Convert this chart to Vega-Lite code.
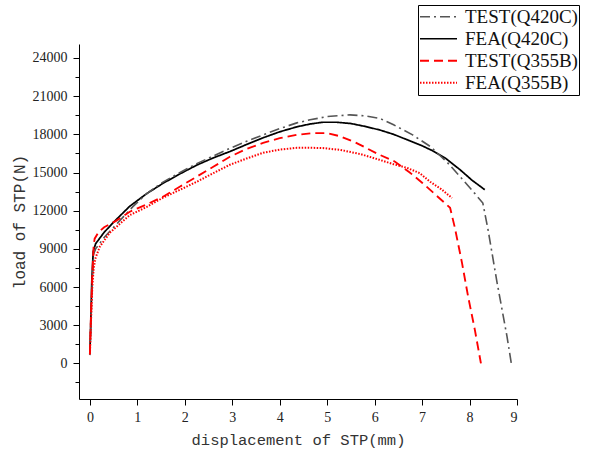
{
  "$schema": "https://vega.github.io/schema/vega-lite/v6.json",
  "width": 438,
  "height": 355,
  "autosize": {"type": "none"},
  "padding": {"left": 79, "top": 44, "right": 77, "bottom": 56},
  "background": "white",
  "config": {"view": {"stroke": null}},
  "data": {"values": [
    {"series": "FEA(Q420C)", "x": 0, "y": 850},
    {"series": "FEA(Q420C)", "x": 0.02, "y": 3500},
    {"series": "FEA(Q420C)", "x": 0.04, "y": 6500},
    {"series": "FEA(Q420C)", "x": 0.07, "y": 8800},
    {"series": "FEA(Q420C)", "x": 0.12, "y": 9400},
    {"series": "FEA(Q420C)", "x": 0.3, "y": 10300},
    {"series": "FEA(Q420C)", "x": 0.5, "y": 11100},
    {"series": "FEA(Q420C)", "x": 0.84, "y": 12350},
    {"series": "FEA(Q420C)", "x": 1.2, "y": 13350},
    {"series": "FEA(Q420C)", "x": 1.54, "y": 14150},
    {"series": "FEA(Q420C)", "x": 1.9, "y": 14900},
    {"series": "FEA(Q420C)", "x": 2.25, "y": 15580},
    {"series": "FEA(Q420C)", "x": 2.6, "y": 16150},
    {"series": "FEA(Q420C)", "x": 2.95, "y": 16650},
    {"series": "FEA(Q420C)", "x": 3.3, "y": 17200},
    {"series": "FEA(Q420C)", "x": 3.65, "y": 17730},
    {"series": "FEA(Q420C)", "x": 4.0, "y": 18200},
    {"series": "FEA(Q420C)", "x": 4.36, "y": 18590},
    {"series": "FEA(Q420C)", "x": 4.65, "y": 18820},
    {"series": "FEA(Q420C)", "x": 4.91, "y": 18950},
    {"series": "FEA(Q420C)", "x": 5.2, "y": 18950},
    {"series": "FEA(Q420C)", "x": 5.5, "y": 18850},
    {"series": "FEA(Q420C)", "x": 5.8, "y": 18620},
    {"series": "FEA(Q420C)", "x": 6.1, "y": 18350},
    {"series": "FEA(Q420C)", "x": 6.4, "y": 18000},
    {"series": "FEA(Q420C)", "x": 6.7, "y": 17550},
    {"series": "FEA(Q420C)", "x": 7.0, "y": 17100},
    {"series": "FEA(Q420C)", "x": 7.2, "y": 16750},
    {"series": "FEA(Q420C)", "x": 7.5, "y": 16100},
    {"series": "FEA(Q420C)", "x": 7.8, "y": 15220},
    {"series": "FEA(Q420C)", "x": 8.05, "y": 14400},
    {"series": "FEA(Q420C)", "x": 8.32, "y": 13650},

    {"series": "TEST(Q420C)", "x": 0, "y": 650},
    {"series": "TEST(Q420C)", "x": 0.02, "y": 3000},
    {"series": "TEST(Q420C)", "x": 0.05, "y": 6500},
    {"series": "TEST(Q420C)", "x": 0.08, "y": 8600},
    {"series": "TEST(Q420C)", "x": 0.12, "y": 9000},
    {"series": "TEST(Q420C)", "x": 0.3, "y": 9900},
    {"series": "TEST(Q420C)", "x": 0.5, "y": 10700},
    {"series": "TEST(Q420C)", "x": 0.9, "y": 12300},
    {"series": "TEST(Q420C)", "x": 1.2, "y": 13350},
    {"series": "TEST(Q420C)", "x": 1.54, "y": 14250},
    {"series": "TEST(Q420C)", "x": 1.9, "y": 15000},
    {"series": "TEST(Q420C)", "x": 2.25, "y": 15700},
    {"series": "TEST(Q420C)", "x": 2.6, "y": 16300},
    {"series": "TEST(Q420C)", "x": 2.95, "y": 16900},
    {"series": "TEST(Q420C)", "x": 3.3, "y": 17450},
    {"series": "TEST(Q420C)", "x": 3.65, "y": 17960},
    {"series": "TEST(Q420C)", "x": 4.0, "y": 18450},
    {"series": "TEST(Q420C)", "x": 4.36, "y": 18900},
    {"series": "TEST(Q420C)", "x": 4.64, "y": 19140},
    {"series": "TEST(Q420C)", "x": 5.0, "y": 19400},
    {"series": "TEST(Q420C)", "x": 5.48, "y": 19530},
    {"series": "TEST(Q420C)", "x": 5.8, "y": 19450},
    {"series": "TEST(Q420C)", "x": 6.11, "y": 19250},
    {"series": "TEST(Q420C)", "x": 6.4, "y": 18750},
    {"series": "TEST(Q420C)", "x": 6.8, "y": 17960},
    {"series": "TEST(Q420C)", "x": 7.17, "y": 17050},
    {"series": "TEST(Q420C)", "x": 7.52, "y": 15840},
    {"series": "TEST(Q420C)", "x": 7.86, "y": 14430},
    {"series": "TEST(Q420C)", "x": 8.1, "y": 13400},
    {"series": "TEST(Q420C)", "x": 8.28, "y": 12600},
    {"series": "TEST(Q420C)", "x": 8.39, "y": 10500},
    {"series": "TEST(Q420C)", "x": 8.58, "y": 6350},
    {"series": "TEST(Q420C)", "x": 8.79, "y": 2100},
    {"series": "TEST(Q420C)", "x": 8.88, "y": 0},

    {"series": "TEST(Q355B)", "x": 0, "y": 750},
    {"series": "TEST(Q355B)", "x": 0.02, "y": 3500},
    {"series": "TEST(Q355B)", "x": 0.05, "y": 7000},
    {"series": "TEST(Q355B)", "x": 0.08, "y": 9300},
    {"series": "TEST(Q355B)", "x": 0.1, "y": 9800},
    {"series": "TEST(Q355B)", "x": 0.18, "y": 10300},
    {"series": "TEST(Q355B)", "x": 0.3, "y": 10700},
    {"series": "TEST(Q355B)", "x": 0.55, "y": 11200},
    {"series": "TEST(Q355B)", "x": 0.84, "y": 11920},
    {"series": "TEST(Q355B)", "x": 1.2, "y": 12500},
    {"series": "TEST(Q355B)", "x": 1.54, "y": 13100},
    {"series": "TEST(Q355B)", "x": 1.9, "y": 13900},
    {"series": "TEST(Q355B)", "x": 2.25, "y": 14670},
    {"series": "TEST(Q355B)", "x": 2.6, "y": 15450},
    {"series": "TEST(Q355B)", "x": 2.95, "y": 16240},
    {"series": "TEST(Q355B)", "x": 3.3, "y": 16850},
    {"series": "TEST(Q355B)", "x": 3.65, "y": 17330},
    {"series": "TEST(Q355B)", "x": 4.0, "y": 17700},
    {"series": "TEST(Q355B)", "x": 4.36, "y": 17960},
    {"series": "TEST(Q355B)", "x": 4.7, "y": 18100},
    {"series": "TEST(Q355B)", "x": 5.0, "y": 18100},
    {"series": "TEST(Q355B)", "x": 5.27, "y": 17850},
    {"series": "TEST(Q355B)", "x": 5.6, "y": 17350},
    {"series": "TEST(Q355B)", "x": 6.1, "y": 16400},
    {"series": "TEST(Q355B)", "x": 6.43, "y": 15850},
    {"series": "TEST(Q355B)", "x": 6.74, "y": 15000},
    {"series": "TEST(Q355B)", "x": 7.0, "y": 14200},
    {"series": "TEST(Q355B)", "x": 7.33, "y": 13100},
    {"series": "TEST(Q355B)", "x": 7.59, "y": 12230},
    {"series": "TEST(Q355B)", "x": 7.69, "y": 10670},
    {"series": "TEST(Q355B)", "x": 7.84, "y": 7920},
    {"series": "TEST(Q355B)", "x": 7.97, "y": 5250},
    {"series": "TEST(Q355B)", "x": 8.11, "y": 2670},
    {"series": "TEST(Q355B)", "x": 8.24, "y": 0},

    {"series": "FEA(Q355B)", "x": 0, "y": 700},
    {"series": "FEA(Q355B)", "x": 0.02, "y": 3000},
    {"series": "FEA(Q355B)", "x": 0.05, "y": 6000},
    {"series": "FEA(Q355B)", "x": 0.08, "y": 7500},
    {"series": "FEA(Q355B)", "x": 0.12, "y": 8300},
    {"series": "FEA(Q355B)", "x": 0.21, "y": 9180},
    {"series": "FEA(Q355B)", "x": 0.42, "y": 10270},
    {"series": "FEA(Q355B)", "x": 0.84, "y": 11650},
    {"series": "FEA(Q355B)", "x": 1.2, "y": 12300},
    {"series": "FEA(Q355B)", "x": 1.54, "y": 13020},
    {"series": "FEA(Q355B)", "x": 1.9, "y": 13650},
    {"series": "FEA(Q355B)", "x": 2.25, "y": 14270},
    {"series": "FEA(Q355B)", "x": 2.6, "y": 14950},
    {"series": "FEA(Q355B)", "x": 2.95, "y": 15610},
    {"series": "FEA(Q355B)", "x": 3.3, "y": 16100},
    {"series": "FEA(Q355B)", "x": 3.65, "y": 16550},
    {"series": "FEA(Q355B)", "x": 4.0, "y": 16800},
    {"series": "FEA(Q355B)", "x": 4.36, "y": 16940},
    {"series": "FEA(Q355B)", "x": 4.6, "y": 16950},
    {"series": "FEA(Q355B)", "x": 4.91, "y": 16920},
    {"series": "FEA(Q355B)", "x": 5.27, "y": 16780},
    {"series": "FEA(Q355B)", "x": 5.7, "y": 16450},
    {"series": "FEA(Q355B)", "x": 6.1, "y": 16000},
    {"series": "FEA(Q355B)", "x": 6.4, "y": 15650},
    {"series": "FEA(Q355B)", "x": 6.68, "y": 15370},
    {"series": "FEA(Q355B)", "x": 6.95, "y": 14950},
    {"series": "FEA(Q355B)", "x": 7.17, "y": 14270},
    {"series": "FEA(Q355B)", "x": 7.4, "y": 13700},
    {"series": "FEA(Q355B)", "x": 7.63, "y": 13000}
  ]},
  "mark": {"type": "line", "strokeCap": "butt", "clip": true},
  "encoding": {
    "x": {
      "field": "x", "type": "quantitative",
      "scale": {"domain": [-0.23, 9.0], "nice": false, "zero": false},
      "axis": {
        "title": "displacement of STP(mm)",
        "values": [0, 0.5, 1, 1.5, 2, 2.5, 3, 3.5, 4, 4.5, 5, 5.5, 6, 6.5, 7, 7.5, 8, 8.5, 9],
        "labelExpr": "datum.value % 1 === 0 ? datum.label : ''",
        "format": "d",
        "grid": false,
        "domainColor": "#000", "domainWidth": 1,
        "tickColor": "#000", "tickWidth": 1,
        "tickSize": {"condition": {"test": "datum.value % 1 === 0", "value": 6}, "value": 4},
        "labelFont": "Liberation Serif", "labelFontSize": 14, "labelColor": "#222",
        "labelPadding": 5,
        "titleFont": "Liberation Mono", "titleFontSize": 15.5, "titleFontWeight": "normal", "titleColor": "#333",
        "titlePadding": 8
      }
    },
    "y": {
      "field": "y", "type": "quantitative",
      "scale": {"domain": [-2800, 25100], "nice": false, "zero": false},
      "axis": {
        "title": "load of STP(N)",
        "values": [-1500, 0, 1500, 3000, 4500, 6000, 7500, 9000, 10500, 12000, 13500, 15000, 16500, 18000, 19500, 21000, 22500, 24000],
        "labelExpr": "datum.value % 3000 === 0 ? datum.label : ''",
        "format": "d",
        "grid": false,
        "domainColor": "#000", "domainWidth": 1,
        "tickColor": "#000", "tickWidth": 1,
        "tickSize": {"condition": {"test": "datum.value % 3000 === 0", "value": 6}, "value": 4},
        "labelFont": "Liberation Serif", "labelFontSize": 14, "labelColor": "#222",
        "labelPadding": 6,
        "titleFont": "Liberation Mono", "titleFontSize": 16, "titleFontWeight": "normal", "titleColor": "#333",
        "titlePadding": 5
      }
    },
    "color": {
      "field": "series", "type": "nominal",
      "scale": {"domain": ["TEST(Q420C)", "FEA(Q420C)", "TEST(Q355B)", "FEA(Q355B)"], "range": ["#555555", "#000000", "#ff0000", "#ff0000"]},
      "legend": {
        "title": null,
        "orient": "none", "legendX": 339, "legendY": -39,
        "symbolType": "stroke", "symbolSize": 1369, "symbolStrokeWidth": 2,
        "clipHeight": 21.5,
        "labelFont": "Liberation Serif", "labelFontSize": 19, "labelColor": "#111",
        "labelOffset": 7, "rowPadding": 0,
        "padding": 1, "strokeColor": "#000", "fillColor": "white",
        "labelLimit": 200
      }
    },
    "strokeDash": {
      "field": "series", "type": "nominal",
      "scale": {"domain": ["TEST(Q420C)", "FEA(Q420C)", "TEST(Q355B)", "FEA(Q355B)"], "range": [[10, 4, 2, 4], [1, 0], [9, 5], [1.5, 1.5]]},
      "legend": {
        "title": null,
        "orient": "none", "legendX": 339, "legendY": -39
      }
    },
    "strokeWidth": {
      "field": "series", "type": "nominal",
      "scale": {"domain": ["TEST(Q420C)", "FEA(Q420C)", "TEST(Q355B)", "FEA(Q355B)"], "range": [1.6, 2, 2.2, 1.6]},
      "legend": null
    }
  }
}
